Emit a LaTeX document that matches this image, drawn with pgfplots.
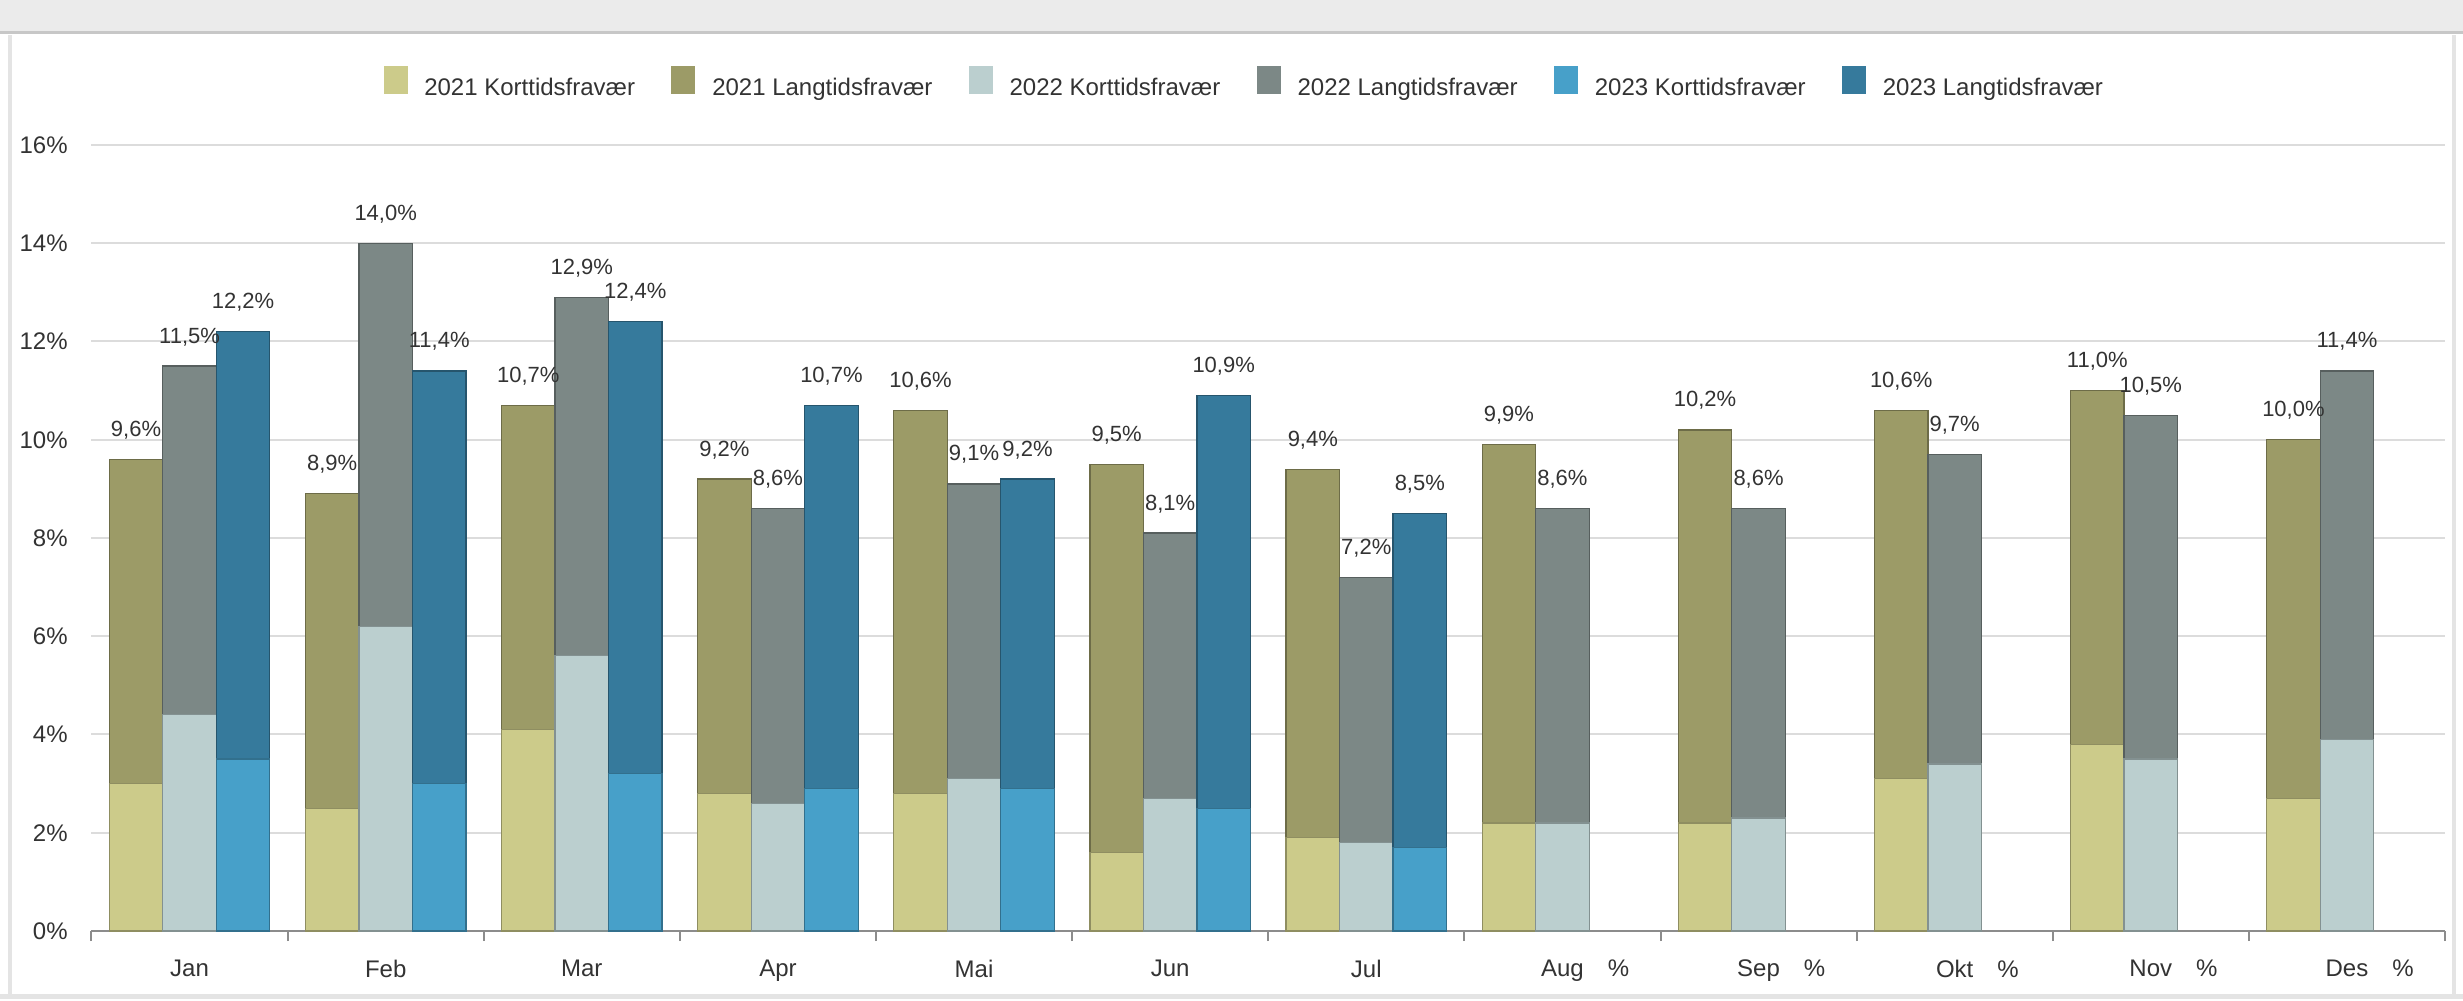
\documentclass[border=0pt]{standalone}
\usepackage{fontspec}
\setmainfont{Liberation Sans}
\usepackage{pgfplots}
\usepackage{pgfplotstable}
\pgfplotsset{compat=1.18}

\definecolor{ktA}{HTML}{CCCB8A}
\definecolor{ltA}{HTML}{9C9B67}
\definecolor{ktB}{HTML}{BBCFCF}
\definecolor{ltB}{HTML}{7C8886}
\definecolor{ktC}{HTML}{47A0C9}
\definecolor{ltC}{HTML}{367A9C}
\definecolor{txt}{HTML}{333333}
\definecolor{gridc}{HTML}{DCDCDC}
\definecolor{axisc}{HTML}{8C8C8C}
\definecolor{bandc}{HTML}{EBEBEB}
\definecolor{framec}{HTML}{E4E4E4}

% sykefravaer per maaned: korttid, langtid, total
\pgfplotstableread{
x short long total
0 3.0 6.6 9.6
1 2.5 6.4 8.9
2 4.1 6.6 10.7
3 2.8 6.4 9.2
4 2.8 7.8 10.6
5 1.6 7.9 9.5
6 1.9 7.5 9.4
7 2.2 7.7 9.9
8 2.2 8.0 10.2
9 3.1 7.5 10.6
10 3.8 7.2 11.0
11 2.7 7.3 10.0
}\tabA

\pgfplotstableread{
x short long total
0 4.4 7.1 11.5
1 6.2 7.8 14.0
2 5.6 7.3 12.9
3 2.6 6.0 8.6
4 3.1 6.0 9.1
5 2.7 5.4 8.1
6 1.8 5.4 7.2
7 2.2 6.4 8.6
8 2.3 6.3 8.6
9 3.4 6.3 9.7
10 3.5 7.0 10.5
11 3.9 7.5 11.4
}\tabB

\pgfplotstableread{
x short long total
0 3.5 8.7 12.2
1 3.0 8.4 11.4
2 3.2 9.2 12.4
3 2.9 7.8 10.7
4 2.9 6.3 9.2
5 2.5 8.4 10.9
6 1.7 6.8 8.5
}\tabC

\newcommand{\legsq}[1]{\addlegendimage{legend image code/.code={\fill[#1] (0pt,-2.45pt) rectangle (11.5pt,11.05pt);}}}

\pgfplotsset{
  /pgf/number format/assume math mode=true,
  geo/.style={
    scale only axis, width=1176.75pt, height=393pt,
    at={(45.75pt,35pt)}, anchor=south west,
    xmin=-0.5, xmax=11.5, ymin=0, ymax=16, clip=false,
    point meta=explicit,
  },
  base/.style={geo, ybar stacked, bar width=26.75pt},
  seg/.style={fill=#1, draw=#1!70!black, line width=0.6pt},
  total/.style={draw=none, mark=none,
    nodes near coords={\pgfmathprintnumber[fixed,fixed zerofill,precision=1,use comma]{\pgfplotspointmeta}\%},
    every node near coord/.append style={font=\fontsize{11}{13}\selectfont, text=txt,
      anchor=base, inner sep=0pt, yshift=11.5pt, xshift=#1}},
}

\begin{document}
\begin{tikzpicture}
\fill[white] (0,0) rectangle (1231.5pt,500.5pt);
\fill[bandc] (0,484pt) rectangle (1231.5pt,500.5pt);

\begin{axis}[base, bar shift=-26.75pt,
  axis x line*=bottom, axis y line*=left,
  y axis line style={draw=none},
  x axis line style={draw=axisc, line width=1pt},
  ytick={0,2,...,16},
  yticklabel={\pgfmathprintnumber{\tick}\%},
  ymajorgrids, major grid style={draw=gridc, line width=1pt},
  xtick={0,...,11},
  xticklabels={Jan,Feb,Mar,Apr,Mai,Jun,Jul,Aug\rlap{\hspace{1em}\%},Sep\rlap{\hspace{1em}\%},Okt\rlap{\hspace{1em}\%},Nov\rlap{\hspace{1em}\%},Des\rlap{\hspace{1em}\%}},
  minor xtick={-0.5,0.5,...,11.5},
  tick align=outside, major tick length=0pt, minor tick length=5pt,
  minor tick style={draw=axisc, line width=1pt},
  ytick style={draw=none},
  tick label style={font=\fontsize{12}{14}\selectfont, text=txt},
  y tick label style={anchor=east, inner sep=0pt, xshift=-11.75pt},
  x tick label style={anchor=north, inner sep=0pt, yshift=-14.25pt},
  legend style={at={(0.1239,1.0801)}, anchor=west, draw=none, fill=none,
    inner sep=0pt, font=\fontsize{12}{14}\selectfont, text=txt,
    nodes={inner sep=0pt},
    /tikz/every odd column/.append style={column sep=8.5pt},
    /tikz/every even column/.append style={column sep=18.2pt}},
  legend columns=6, legend cell align=left,
]
\legsq{ktA}\addlegendentry{2021 Korttidsfravær}
\legsq{ltA}\addlegendentry{2021 Langtidsfravær}
\legsq{ktB}\addlegendentry{2022 Korttidsfravær}
\legsq{ltB}\addlegendentry{2022 Langtidsfravær}
\legsq{ktC}\addlegendentry{2023 Korttidsfravær}
\legsq{ltC}\addlegendentry{2023 Langtidsfravær}
\addplot[seg=ktA] table[x=x, y=short, meta=total]{\tabA};
\addplot[seg=ltA] table[x=x, y=long, meta=total]{\tabA};
\end{axis}

\begin{axis}[base, bar shift=0pt, hide axis]
\addplot[seg=ktB] table[x=x, y=short, meta=total]{\tabB};
\addplot[seg=ltB] table[x=x, y=long, meta=total]{\tabB};
\end{axis}

\begin{axis}[base, bar shift=26.75pt, hide axis]
\addplot[seg=ktC] table[x=x, y=short, meta=total]{\tabC};
\addplot[seg=ltC] table[x=x, y=long, meta=total]{\tabC};
\end{axis}

% totalverdier over hver stolpe
\begin{axis}[geo, hide axis]
\addplot[total=-26.75pt] table[x=x, y=total, meta=total]{\tabA};
\addplot[total=0pt] table[x=x, y=total, meta=total]{\tabB};
\addplot[total=26.75pt] table[x=x, y=total, meta=total]{\tabC};
\end{axis}

% ramme rundt figuren
\draw[black!22, line width=1.5pt] (0,484pt) -- (1231.5pt,484pt);
\draw[framec, line width=2pt] (5pt,2pt) -- (5pt,483pt);
\draw[framec, line width=2pt] (1227pt,2pt) -- (1227pt,483pt);
\draw[framec, line width=2.5pt] (0,2pt) -- (1231.5pt,2pt);

\pgfresetboundingbox
\useasboundingbox (0,0) rectangle (1231.5pt,500.5pt);
\end{tikzpicture}
\end{document}
